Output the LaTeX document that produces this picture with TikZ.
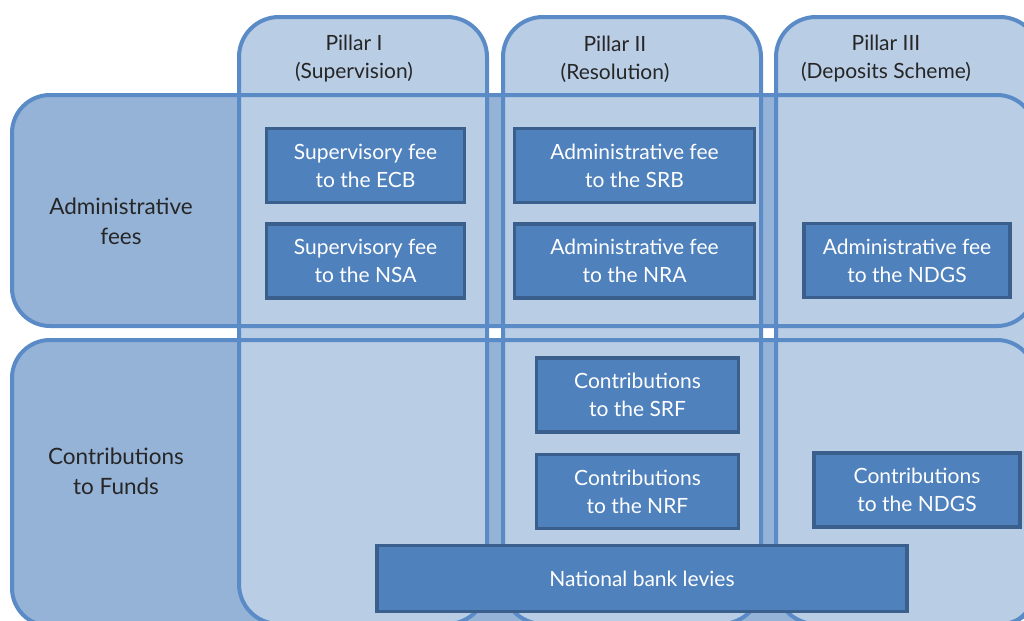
\documentclass[tikz,border=0pt]{standalone}
\usepackage{fontspec}
\setmainfont{Lato}
\usepackage{xcolor}
\usepackage{tikz}
\usetikzlibrary{positioning}
\definecolor{rowblue}{HTML}{95B3D7}
\definecolor{pillarblue}{HTML}{B9CDE5}
\definecolor{edgeblue}{HTML}{5B8BC7}
\definecolor{boxblue}{HTML}{4F81BD}
\definecolor{boxedge}{HTML}{3A5F8D}
\definecolor{labelgray}{HTML}{262626}

\tikzset{
    rowframe/.style={draw=edgeblue, line width=2pt, rounded corners=19pt},
    pillarframe/.style={draw=edgeblue, line width=2pt, rounded corners=20pt},
    feebox/.style={draw=boxedge, fill=boxblue, line width=1.8pt, text=white,
        align=center, inner sep=0pt, minimum height=37pt},
    heading/.style={text=labelgray, align=center},
    rowlabel/.style={heading, font=\fontsize{11.25}{15}\selectfont}
}

\begin{document}
\begin{tikzpicture}[x=0.5pt, y=-0.5pt, every node/.style={font=\fontsize{10.5}{14}\selectfont}]
        \useasboundingbox (0,0) rectangle (1024,621);
        \clip (0,0) rectangle (1024,621);

        % rows, then pillars on top, then all outlines
        \fill[rowblue, rounded corners=19pt] (12,95) rectangle (1035,326);
        \fill[rowblue, rounded corners=19pt] (12,340) rectangle (1035,626);
        \foreach \xa/\xb in {239/487,503/761,776/1040} {
            \fill[pillarblue, rounded corners=20pt] (\xa,17) rectangle (\xb,624);
        }
        \draw[rowframe] (12,95) rectangle (1035,326);
        \draw[rowframe] (12,340) rectangle (1035,626);
        \foreach \xa/\xb in {239/487,503/761,776/1040} {
            \draw[pillarframe] (\xa,17) rectangle (\xb,624);
        }

        % headings
        \node[heading] (supervision) at (354,59) {Pillar I\\(Supervision)};
        \node[heading] (resolution) at (615,59) {Pillar II\\(Resolution)};
        \node[heading] (deposits) at (886,59) {Pillar III\\(Deposits Scheme)};
        \node[rowlabel] (adminrow) at (121,221) {Administrative\\fees};
        \node[rowlabel] (fundsrow) at (116,471) {Contributions\\to Funds};

        % administrative fees
        \node[feebox, minimum width=99pt] (ecbfee) at (365.5,165.5) {Supervisory fee\\to the ECB};
        \node[feebox, minimum width=99pt, below=9pt of ecbfee] (nsafee) {Supervisory fee\\to the NSA};
        \node[feebox, minimum width=120pt] (srbfee) at (634.5,165.5) {Administrative fee\\to the SRB};
        \node[feebox, minimum width=120pt, below=9pt of srbfee] (nrafee) {Administrative fee\\to the NRA};
        \node[feebox, minimum width=103pt] (ndgsfee) at (907,260.5) {Administrative fee\\to the NDGS};

        % contributions to funds
        \node[feebox, minimum width=101pt] (srf) at (637.5,395) {Contributions\\to the SRF};
        \node[feebox, minimum width=101pt, below=9.5pt of srf] (nrf) {Contributions\\to the NRF};
        \node[feebox, minimum width=103pt] (ndgs) at (917,490) {Contributions\\to the NDGS};
        \node[feebox, minimum width=265pt, minimum height=33pt] (levies) at (642,578.5) {National bank levies};
    \end{tikzpicture}
\end{document}
